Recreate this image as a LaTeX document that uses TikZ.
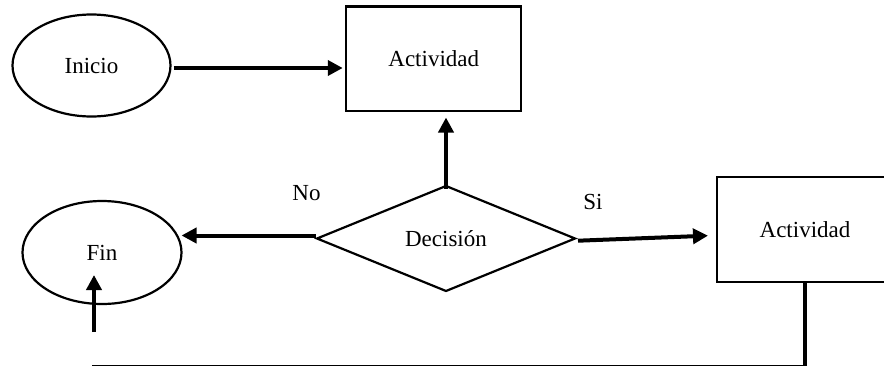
\documentclass[tikz,border=0pt]{standalone}
\usepackage{fontspec}
\setmainfont{Liberation Serif}
\usetikzlibrary{shapes.geometric,arrows.meta}
\begin{document}
\begin{tikzpicture}[x=1pt,y=-1pt,
  every node/.style={font=\fontsize{23}{27}\selectfont, inner sep=0pt, outer sep=0pt},
  terminal/.style={draw, ellipse, line width=2.2pt, minimum width=158pt, minimum height=102pt},
  activity/.style={draw, rectangle, line width=2.2pt, minimum width=175pt, minimum height=104.5pt},
  decisionbox/.style={draw, diamond, line width=2.2pt, minimum width=258pt, minimum height=105pt},
  flow/.style={line width=4pt, -{Triangle[length=15pt,width=15pt]}},
  link/.style={line width=4pt},
  thinlink/.style={line width=1.4pt}]
  \useasboundingbox (0,0) rectangle (884,367);

  % shapes
  \node[terminal] (inicio) at (91.5,65.5) {Inicio};
  \node[activity] (act1) at (433.75,58.75) {Actividad};
  \node[decisionbox] (decision) at (446,238.5) {Decisión};
  \node[terminal, minimum width=159pt, minimum height=103pt] (fin) at (102,252.5) {Fin};
  \node[activity, minimum width=176pt, minimum height=104.4pt] (act2) at (805,229.5) {Actividad};

  % branch labels
  \node (nolabel) at (306.5,193) {No};
  \node (silabel) at (593,202) {Si};

  % connectors
  \draw[flow, shorten <=3pt, shorten >=3.5pt] ([yshift=-2.5pt]inicio.east) -- ([yshift=-2.5pt]inicio.east -| act1.west);
  \draw[flow, shorten >=4pt] ([yshift=-2.5pt]decision.north) -- ([yshift=-2.5pt]decision.north |- act1.south);
  \draw[flow, shorten <=1.5pt] ([yshift=3pt]decision.west) -- ([yshift=3pt]decision.west -| fin.east);
  \draw[flow] ([xshift=3pt,yshift=-2.2pt]decision.east) -- ([xshift=-9pt,yshift=-6.2pt]act2.west);

  % return path below the chart
  \coordinate (loopcorner) at (act2.south |- 0,365.7);
  \coordinate (loopend) at (92,365.7);
  \coordinate (riser) at (94,332);
  \coordinate (fintip) at (94,275);
  \draw[link] (act2.south) -- ([yshift=1pt]loopcorner);
  \draw[thinlink] ([xshift=2pt]loopcorner) -- (loopend);
  \draw[flow] (riser) -- (fintip);
\end{tikzpicture}
\end{document}
